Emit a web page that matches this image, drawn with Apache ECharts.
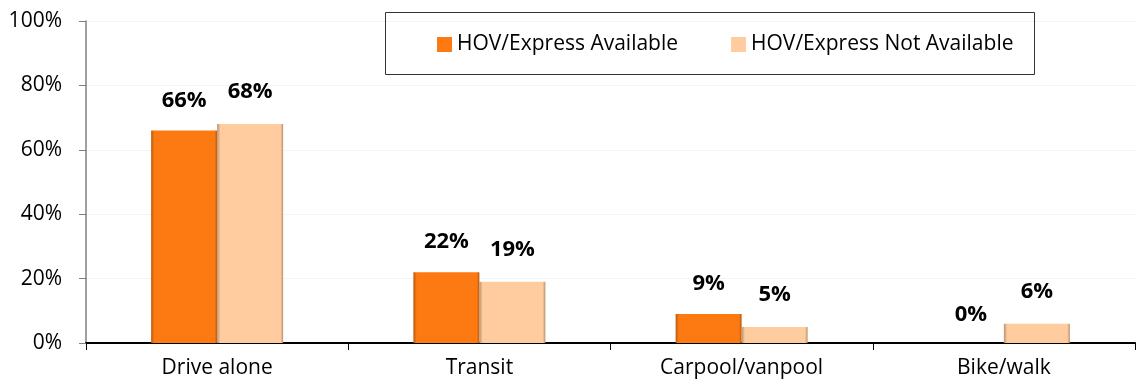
<!DOCTYPE html>
<html>
<head>
<meta charset="utf-8">
<script src="https://cdn.jsdelivr.net/npm/echarts@6/dist/echarts.min.js"></script>
<style>
  html, body { margin: 0; padding: 0; background: #fff; }
  #chart { width: 1138px; height: 382px; }
</style>
</head>
<body>
<div id="chart"></div>
<script>
// Commute mode share, by HOV/Express lane availability
const categories = ['Drive alone', 'Transit', 'Carpool/vanpool', 'Bike/walk'];
const seriesNames = ['HOV/Express Available', 'HOV/Express Not Available'];
const availableValues = [66, 22, 9, 0];
const notAvailableValues = [68, 19, 5, 6];
const yTicks = [0, 20, 40, 60, 80, 100];

const FONT = '"Open Sans", "Liberation Sans", sans-serif';
const MAIN_COLORS = ['#fd7a12', '#fecc9e'];
const EDGE_COLORS = ['#b85a0c', '#b8926e'];

// Bars get a thin darker edge on each side
function edgeShade(dark, main) {
  return new echarts.graphic.LinearGradient(0, 0, 1, 0, [
    { offset: 0, color: dark },
    { offset: 0.05, color: main },
    { offset: 0.96, color: main },
    { offset: 1, color: dark }
  ]);
}

function labelStyle(distance) {
  return {
    show: true,
    position: 'top',
    distance: distance,
    formatter: '{c}%',
    fontFamily: FONT,
    fontWeight: 'bold',
    fontSize: 22,
    color: '#000'
  };
}

function toData(values) {
  return values.map(v => v === 0
    ? { value: v, label: { distance: 17 } }
    : v);
}

const chart = echarts.init(document.getElementById('chart'), null, { renderer: 'canvas' });

chart.setOption({
  animation: false,
  backgroundColor: '#fff',
  color: MAIN_COLORS,
  textStyle: { fontFamily: FONT },
  grid: { left: 86, right: 3, top: 21, bottom: 39, containLabel: false },
  graphic: [{
    type: 'rect',
    left: 383,
    top: 10,
    shape: { width: 649, height: 62 },
    style: { fill: 'none', stroke: '#333', lineWidth: 1 },
    z: 10
  }],
  legend: {
    left: 432,
    top: 29,
    itemWidth: 15,
    itemHeight: 15,
    itemGap: 53,
    icon: 'rect',
    textStyle: { fontFamily: FONT, fontSize: 21, color: '#000' },
    data: seriesNames.map((n, i) => ({ name: n, itemStyle: { color: MAIN_COLORS[i] } }))
  },
  xAxis: {
    type: 'category',
    data: categories,
    axisLine: { lineStyle: { color: '#000', width: 2 } },
    axisTick: { show: true, alignWithLabel: false, length: 7, lineStyle: { color: '#000' } },
    axisLabel: { fontFamily: FONT, fontSize: 21, color: '#000', margin: 15 }
  },
  yAxis: {
    type: 'value',
    min: yTicks[0],
    max: yTicks[yTicks.length - 1],
    interval: 20,
    axisLine: { show: true, lineStyle: { color: '#7f7f7f', width: 1.5 } },
    axisTick: { show: true, inside: false, length: 7, lineStyle: { color: '#7f7f7f' } },
    axisLabel: { fontFamily: FONT, fontSize: 21, color: '#000', margin: 24, formatter: '{value}%' },
    splitLine: { show: true, lineStyle: { color: '#f4f4f4', width: 1 } }
  },
  series: [
    {
      name: seriesNames[0],
      type: 'bar',
      data: toData(availableValues),
      barWidth: 66,
      barGap: '0%',
      itemStyle: { color: edgeShade(EDGE_COLORS[0], MAIN_COLORS[0]) },
      label: labelStyle(19)
    },
    {
      name: seriesNames[1],
      type: 'bar',
      data: toData(notAvailableValues),
      barWidth: 66,
      barGap: '0%',
      itemStyle: { color: edgeShade(EDGE_COLORS[1], MAIN_COLORS[1]) },
      label: labelStyle(21)
    }
  ]
});
</script>
</body>
</html>
